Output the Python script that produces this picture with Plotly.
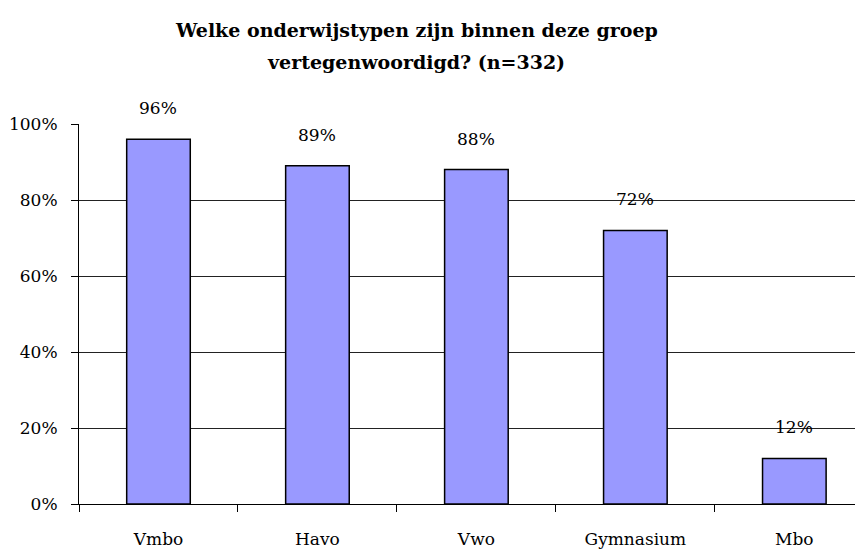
import plotly.graph_objects as go

categories = ["Vmbo", "Havo", "Vwo", "Gymnasium", "Mbo"]
values = [96, 89, 88, 72, 12]
y_ticks = [0, 20, 40, 60, 80, 100]
y_tick_labels = ["0%", "20%", "40%", "60%", "80%", "100%"]
title_lines = ["Welke onderwijstypen zijn binnen deze groep", "vertegenwoordigd? (n=332)"]

FONT = "DejaVu Serif"

fig = go.Figure()
fig.add_trace(go.Bar(
    x=categories, y=values, width=0.40,
    marker=dict(color="#9999FF", line=dict(color="#000000", width=1.5)),
    hoverinfo="skip",
))

annotations = []
for c, v in zip(categories, values):
    annotations.append(dict(x=c, y=v, xref="x", yref="y", text=f"{v}%", showarrow=False,
                            yshift=31, font=dict(family=FONT, size=17, color="#000")))
for i, (line, yy) in enumerate(zip(title_lines, [1.247, 1.163])):
    annotations.append(dict(x=0.43, y=yy, xref="paper", yref="paper", text=f"<b>{line}</b>",
                            showarrow=False, xanchor="center", yanchor="middle",
                            font=dict(family=FONT, size=19, color="#000")))

fig.update_layout(
    width=855, height=544,
    margin=dict(l=71, r=0, t=116, b=48),
    paper_bgcolor="white", plot_bgcolor="white",
    showlegend=False,
    annotations=annotations,
    font=dict(family=FONT, size=17, color="#000"),
)
fig.update_xaxes(
    range=[-0.5, 4.432], showline=True, linecolor="#000", linewidth=1,
    ticks="outside", tickson="boundaries", ticklen=7, tickcolor="#000",
    showgrid=False, ticklabelstandoff=20,
    tickfont=dict(family=FONT, size=17, color="#000"),
)
fig.update_yaxes(
    range=[0, 100], tickvals=y_ticks, ticktext=y_tick_labels,
    showline=True, linecolor="#000", linewidth=1,
    ticks="outside", ticklen=7, tickcolor="#000",
    showgrid=True, gridcolor="#222", gridwidth=1, zeroline=False,
    ticklabelstandoff=10,
    tickfont=dict(family=FONT, size=17, color="#000"),
)
fig.update_traces(cliponaxis=False)
fig.write_html("out.html")
